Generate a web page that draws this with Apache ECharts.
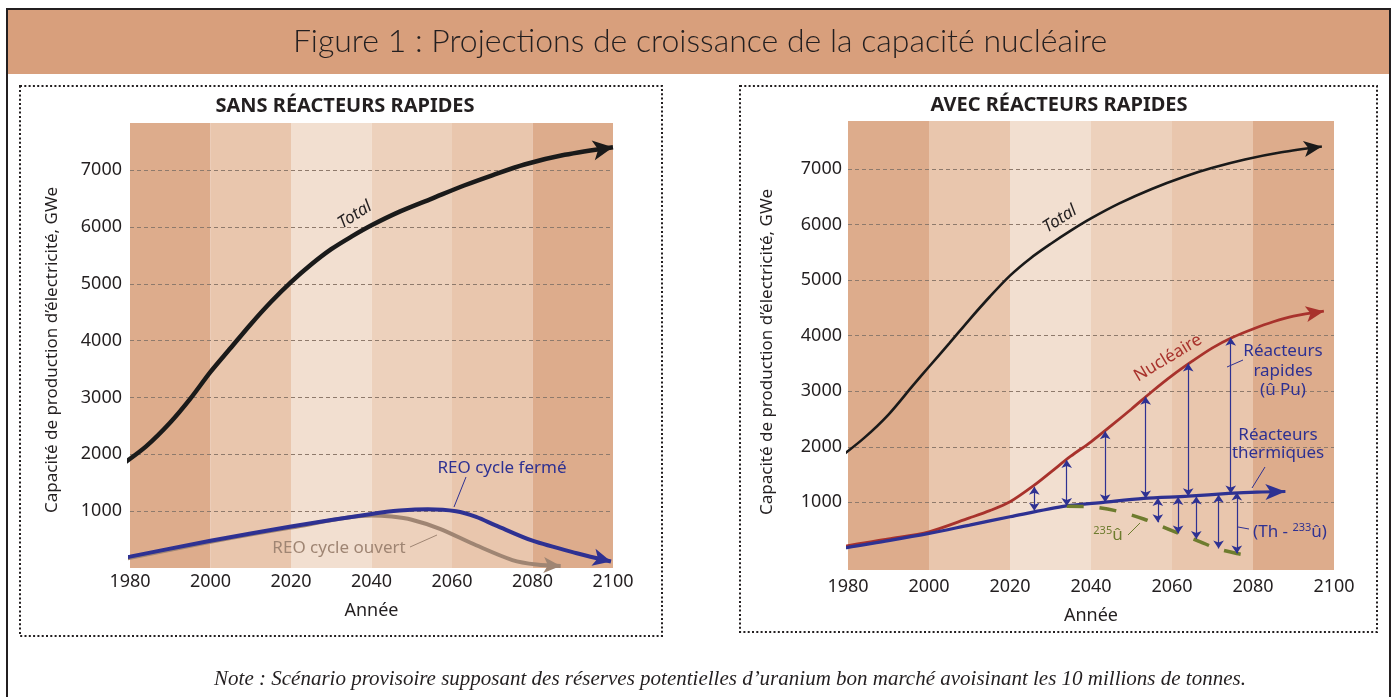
<!DOCTYPE html>
<html>
<head>
<meta charset="utf-8">
<script src="https://cdn.jsdelivr.net/npm/echarts@6.0.0/dist/echarts.min.js"></script>
<style>
  html, body { margin: 0; padding: 0; background: #fff; }
  #chart { width: 1395px; height: 697px; }
</style>
</head>
<body>
<div id="chart"></div>
<script>
// axes
const yearTicks = [1980, 2000, 2020, 2040, 2060, 2080, 2100];
const valueTicks = [1000, 2000, 3000, 4000, 5000, 6000, 7000];
const bandEdges = [1980, 2000, 2020, 2040, 2060, 2080, 2100];
const bandColors = ['#DDAC8C', '#E9C6AD', '#F2DFD0', '#EDD1BC', '#E9C6AD', '#DDAC8C'];

// sans réacteurs rapides  [année, GWe]
const totalSans = [[1978, 1820], [1984, 2140], [1990, 2560], [1995, 2980], [2000, 3450], [2005, 3870], [2010, 4290], [2015, 4680], [2020, 5030], [2025, 5340], [2030, 5610], [2035, 5830], [2040, 6030], [2047, 6270], [2055, 6500], [2063, 6730], [2070, 6910], [2078, 7100], [2088, 7270], [2100, 7405]];
const reoFerme = [[1973, 110], [1980, 200], [2000, 480], [2020, 730], [2040, 950], [2047, 1010], [2054, 1035], [2061, 1000], [2066, 900], [2071, 745], [2080, 480], [2091, 260], [2099.5, 115]];
const reoOuvert = [[1974, 95], [1980, 180], [2000, 460], [2020, 710], [2040, 925], [2045, 905], [2050, 850], [2057, 690], [2066, 400], [2075, 140], [2081, 60], [2087, 35]];

// avec réacteurs rapides
const totalAvec = [[1978, 1810], [1984, 2160], [1990, 2580], [1996, 3100], [2000, 3440], [2005, 3860], [2010, 4290], [2015, 4700], [2020, 5080], [2025, 5390], [2030, 5650], [2035, 5890], [2040, 6110], [2047, 6380], [2055, 6640], [2063, 6860], [2070, 7020], [2078, 7170], [2087, 7300], [2097, 7405]];
const nucleaire = [[1973, 110], [1980, 220], [1990, 340], [2000, 470], [2010, 720], [2015, 850], [2020, 1010], [2026, 1310], [2030, 1540], [2035, 1830], [2040, 2090], [2045, 2380], [2050, 2680], [2055, 2990], [2060, 3280], [2065, 3540], [2070, 3780], [2075, 3970], [2080, 4120], [2085, 4250], [2090, 4350], [2097.5, 4440]];
const thermiques = [[1973, 90], [1980, 190], [1990, 310], [2000, 440], [2010, 590], [2020, 740], [2034, 935], [2043, 1000], [2053, 1070], [2064, 1110], [2074, 1160], [2081, 1185], [2088, 1195]];
const u235 = [[2034, 930], [2040, 920], [2046, 850], [2053, 700], [2060, 490], [2067, 290], [2071, 170], [2076, 80], [2080, 30]];

// flèches verticales (rapides : nucléaire -> thermiques, thermiques : thermiques -> 235U)
const rapidYears = [2026, 2034, 2043.5, 2053.5, 2064, 2074.5];
const rapidTop = [1280, 1760, 2280, 2900, 3500, 3960];
const rapidBottom = [850, 935, 1000, 1070, 1110, 1160];
const thermYears = [2056.5, 2061.5, 2066, 2071.5, 2076];
const thermTop = [1080, 1095, 1105, 1135, 1175];
const thermBottom = [640, 440, 340, 170, 80];

const FONT = '"Noto Sans", "DejaVu Sans", sans-serif';
const INK = '#231f20';
const BLUE = '#2E3192';
const RED = '#A8322C';
const BROWN = '#9F8573';
const GREEN = '#6E7C2E';

const chart = echarts.init(document.getElementById('chart'));

function bandSeries(grid) {
  return {
    type: 'line', xAxisIndex: grid, yAxisIndex: grid, data: [], silent: true, z: 1,
    markArea: {
      silent: true, z: 1,
      data: bandEdges.slice(0, -1).map((e, i) => [
        { xAxis: e, itemStyle: { color: bandColors[i] } },
        { xAxis: bandEdges[i + 1] }
      ])
    },
    markLine: {
      silent: true, z: 1, symbol: 'none', label: { show: false },
      lineStyle: { color: '#8E7A6C', width: 1, type: [4, 3] },
      data: valueTicks.map(v => ({ yAxis: v }))
    }
  };
}

function curve(pts, grid, color, width, arrow, rot) {
  return {
    type: 'line', xAxisIndex: grid, yAxisIndex: grid, smooth: 0.3, clip: false,
    symbol: 'none', silent: true, z: 3,
    lineStyle: { color: color, width: width },
    itemStyle: { color: color },
    data: pts.map((p, i) => (arrow && i === pts.length - 1)
      ? { value: p, symbol: 'arrow', symbolSize: arrow, symbolRotate: rot, itemStyle: { color: color } }
      : { value: p })
  };
}

function arrows(years, top, bottom) {
  return {
    type: 'line', xAxisIndex: 1, yAxisIndex: 1, data: [], silent: true, z: 4,
    itemStyle: { color: BLUE },
    markLine: {
      silent: true, z: 4, symbol: ['arrow', 'arrow'], symbolSize: 8,
      label: { show: false },
      itemStyle: { color: BLUE },
      lineStyle: { color: BLUE, width: 1.2, type: 'solid', opacity: 1 },
      emphasis: { disabled: true },
      data: years.map((y, i) => [{ coord: [y, top[i]] }, { coord: [y, bottom[i]] }])
    }
  };
}

const curves = [
  [totalSans, 0, '#1a1a1a', 4.5, [15, 20]],
  [reoOuvert, 0, BROWN, 4, [12, 17]],
  [reoFerme, 0, BLUE, 4, [13, 18]],
  [totalAvec, 1, '#1a1a1a', 2.6, [12, 18]],
  [nucleaire, 1, RED, 2.8, [12, 18]],
  [thermiques, 1, BLUE, 3.2, [12, 20]]
];

function buildSeries(rots) {
  return [
    bandSeries(0), bandSeries(1),
    ...curves.map((c, i) => curve(c[0], c[1], c[2], c[3], c[4], rots[i])),
    {
      type: 'line', xAxisIndex: 1, yAxisIndex: 1, smooth: 0.3, clip: false, symbol: 'none',
      silent: true, z: 3, data: u235,
      lineStyle: { color: GREEN, width: 3.5, type: [17, 16], cap: 'butt' }
    },
    arrows(rapidYears, rapidTop, rapidBottom),
    arrows(thermYears, thermTop, thermBottom)
  ];
}

function txt(x, y, text, font, color, extra) {
  return Object.assign({
    type: 'text', x: x, y: y, z: 100, silent: true,
    style: { text: text, font: font, fill: color, align: 'center', verticalAlign: 'middle' }
  }, extra || {});
}
function seg(x1, y1, x2, y2, color) {
  return { type: 'line', z: 100, silent: true, shape: { x1, y1, x2, y2 }, style: { stroke: color, lineWidth: 1 } };
}

const graphics = [
  { type: 'rect', z: -10, silent: true, shape: { x: 7, y: 9, width: 1383, height: 700 }, style: { fill: '#fff', stroke: INK, lineWidth: 2 } },
  { type: 'rect', z: -9, silent: true, shape: { x: 8, y: 10, width: 1381, height: 64 }, style: { fill: '#D89F7C' } },
  { type: 'rect', z: -8, silent: true, shape: { x: 20, y: 86, width: 642, height: 550 }, style: { fill: null, stroke: INK, lineWidth: 2, lineDash: [2, 2.3] } },
  { type: 'rect', z: -8, silent: true, shape: { x: 740, y: 86, width: 637, height: 546 }, style: { fill: null, stroke: INK, lineWidth: 2, lineDash: [2, 2.3] } },
  txt(700, 42, 'Figure 1 : Projections de croissance de la capacité nucléaire', '300 32px Lato, ' + FONT, INK),
  txt(345, 106, 'SANS RÉACTEURS RAPIDES', 'bold 20px ' + FONT, INK),
  txt(1059, 105, 'AVEC RÉACTEURS RAPIDES', 'bold 20px ' + FONT, INK),
  txt(52, 350, 'Capacité de production d’électricité, GWe', '17px ' + FONT, INK, { rotation: Math.PI / 2 }),
  txt(767, 352, 'Capacité de production d’électricité, GWe', '17px ' + FONT, INK, { rotation: Math.PI / 2 }),
  txt(730, 679, 'Note : Scénario provisoire supposant des réserves potentielles d’uranium bon marché avoisinant les 10 millions de tonnes.', 'italic 21px "Liberation Serif", serif', INK),
  // annotations gauche
  txt(355, 215, 'Total', 'italic 17px ' + FONT, INK, { rotation: 0.58 }),
  txt(502, 468, 'REO cycle fermé', '17px ' + FONT, BLUE),
  seg(466, 477, 454, 507, BLUE),
  txt(339, 548, 'REO cycle ouvert', '17px ' + FONT, BROWN),
  seg(410, 547, 437, 535, BROWN),
  // annotations droite
  txt(1060, 219, 'Total', 'italic 17px ' + FONT, INK, { rotation: 0.58 }),
  txt(1168, 358, 'Nucléaire', '17px ' + FONT, RED, { rotation: 0.54 }),
  txt(1283, 351, 'Réacteurs', '17px ' + FONT, BLUE),
  txt(1283, 371, 'rapides', '17px ' + FONT, BLUE),
  txt(1283, 390, '(û Pu)', '17px ' + FONT, BLUE),
  seg(1227, 367, 1243, 360, BLUE),
  txt(1278, 435, 'Réacteurs', '17px ' + FONT, BLUE),
  txt(1278, 453, 'thermiques', '17px ' + FONT, BLUE),
  seg(1265, 467, 1252, 488, BLUE),
  {
    type: 'text', x: 1290, y: 532, z: 100, silent: true,
    style: {
      text: '{n|(Th - }{s|233}{n|û)}', align: 'center', verticalAlign: 'middle', fill: BLUE,
      rich: { n: { font: '17px ' + FONT, fill: BLUE, lineHeight: 20 }, s: { font: '11px ' + FONT, fill: BLUE, verticalAlign: 'top' } }
    }
  },
  seg(1238, 527, 1249, 529, BLUE),
  {
    type: 'text', x: 1108, y: 535, z: 100, silent: true,
    style: {
      text: '{s|235}{n|û}', align: 'center', verticalAlign: 'middle', fill: GREEN,
      rich: { n: { font: '17px ' + FONT, fill: GREEN, lineHeight: 20 }, s: { font: '11px ' + FONT, fill: GREEN, verticalAlign: 'top' } }
    }
  },
  seg(1128, 535, 1140, 523, GREEN)
];

const axisText = { fontSize: 18, color: INK, fontFamily: FONT };

const option = {
  animation: false,
  backgroundColor: 'transparent',
  grid: [
    { left: 130, top: 123, width: 483, height: 445 },
    { left: 848, top: 121, width: 486, height: 449 }
  ],
  xAxis: [0, 1].map(i => ({
    gridIndex: i, type: 'value', min: yearTicks[0], max: yearTicks[yearTicks.length - 1], interval: 20,
    axisLine: { show: false }, axisTick: { show: false }, splitLine: { show: false },
    axisLabel: Object.assign({ margin: i ? 8 : 5, formatter: v => String(v) }, axisText),
    name: 'Année', nameLocation: 'middle', nameGap: i ? 37 : 34,
    nameTextStyle: axisText
  })),
  yAxis: [
    { gridIndex: 0, type: 'value', min: 0, max: 7830 },
    { gridIndex: 1, type: 'value', min: -218, max: 7863 }
  ].map((a, i) => Object.assign(a, {
    axisLine: { show: false }, axisTick: { show: false }, splitLine: { show: false },
    axisLabel: Object.assign({ margin: i ? 6 : 8, customValues: valueTicks, formatter: v => String(v) }, axisText)
  })),
  graphic: { elements: graphics },
  series: buildSeries(curves.map(() => -90))
};

chart.setOption(option);

// orientation des pointes de flèche en fin de courbe
const rots = curves.map(c => {
  const pts = c[0];
  const a = chart.convertToPixel({ gridIndex: c[1] }, pts[pts.length - 2]);
  const b = chart.convertToPixel({ gridIndex: c[1] }, pts[pts.length - 1]);
  return Math.atan2(a[1] - b[1], b[0] - a[0]) * 180 / Math.PI - 90;
});
chart.setOption({ series: buildSeries(rots) });
</script>
</body>
</html>
